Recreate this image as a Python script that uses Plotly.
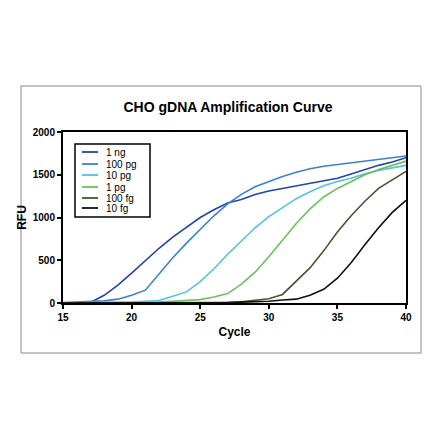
import plotly.graph_objects as go

cycles = list(range(15, 41))
labels = ["1 ng", "100 pg", "10 pg", "1 pg", "100 fg", "10 fg"]
colors = ["#2343b0", "#3b82cc", "#52c3df", "#6cc25a", "#3e5a2a", "#111111"]

rfu_1ng = [0, 5, 5, 90, 210, 350, 500, 640, 770, 880, 1000, 1090, 1170, 1210, 1270, 1310,
           1340, 1370, 1400, 1430, 1460, 1510, 1560, 1610, 1650, 1700]
rfu_100pg = [5, 10, 15, 25, 45, 90, 150, 340, 530, 700, 860, 1020, 1160, 1270, 1360, 1420,
             1480, 1530, 1570, 1600, 1620, 1640, 1660, 1680, 1700, 1720]
rfu_10pg = [0, 2, 3, 5, 7, 10, 20, 30, 80, 130, 250, 400, 570, 730, 880, 1010,
            1120, 1220, 1300, 1370, 1420, 1460, 1510, 1550, 1580, 1610]
rfu_1pg = [0, 1, 2, 3, 4, 6, 8, 10, 20, 30, 40, 70, 110, 220, 360, 540,
           730, 930, 1100, 1240, 1340, 1420, 1500, 1560, 1610, 1660]
rfu_100fg = [0, 0, 1, 1, 2, 2, 3, 3, 4, 4, 5, 5, 5, 15, 30, 50,
             100, 250, 410, 610, 830, 1020, 1190, 1340, 1440, 1540]
rfu_10fg = [0, 0, 0, 1, 1, 1, 2, 2, 3, 3, 4, 5, 6, 10, 15, 20,
            35, 45, 90, 160, 290, 470, 680, 880, 1060, 1200]
series = [rfu_1ng, rfu_100pg, rfu_10pg, rfu_1pg, rfu_100fg, rfu_10fg]

fig = go.Figure()
for name, ys, c in zip(labels, series, colors):
    fig.add_trace(go.Scatter(x=cycles, y=ys, mode="lines", name=name,
                             line=dict(color=c, width=1.6)))

axis = dict(showline=True, linecolor="black", linewidth=2, mirror=True,
            ticks="outside", tickwidth=2, ticklen=4, tickcolor="black",
            showgrid=False, zeroline=False,
            tickfont=dict(size=10, color="black", family="Liberation Sans", weight="bold"))

# plot area in pixels (reference coords): left 62, right 405, top 131, bottom 302
PW, PH = 343, 171
def px(x):
    return (x - 62) / PW
def py(y):
    return (302 - y) / PH

shapes = [dict(type="rect", xref="paper", yref="paper",
               x0=px(20), x1=px(420), y0=py(352), y1=py(85),
               line=dict(color="#888888", width=1)),
          dict(type="rect", xref="paper", yref="paper",
               x0=px(74), x1=px(149), y0=py(216), y1=py(143),
               line=dict(color="black", width=1.5), fillcolor="white", layer="above")]
annotations = []
ys_leg = [151, 163, 174, 186, 197, 207]
for name, c, yy in zip(labels, colors, ys_leg):
    shapes.append(dict(type="line", xref="paper", yref="paper",
                       x0=px(81), x1=px(97), y0=py(yy), y1=py(yy),
                       line=dict(color=c, width=1.8), layer="above"))
    annotations.append(dict(xref="paper", yref="paper", x=px(103), y=py(yy),
                            text=name, showarrow=False, xanchor="left", yanchor="middle",
                            font=dict(size=10, color="black")))

fig.update_layout(
    width=440, height=440,
    paper_bgcolor="white", plot_bgcolor="white",
    margin=dict(l=55, r=42, t=124, b=145),
    showlegend=False,
    font=dict(family="Liberation Sans", color="black"),
    title=dict(text="<b>CHO gDNA Amplification Curve</b>", x=0.5, xanchor="center",
               y=1 - 99 / 440, yanchor="middle", font=dict(size=14)),
    xaxis=dict(axis, range=[15, 40], tickvals=[15, 20, 25, 30, 35, 40],
               title=dict(text="<b>Cycle</b>", font=dict(size=12), standoff=6)),
    yaxis=dict(axis, range=[0, 2000], tickvals=[0, 500, 1000, 1500, 2000],
               title=dict(text="<b>RFU</b>", font=dict(size=12), standoff=4)),
    shapes=shapes,
    annotations=annotations,
)

fig.write_html("out.html")
